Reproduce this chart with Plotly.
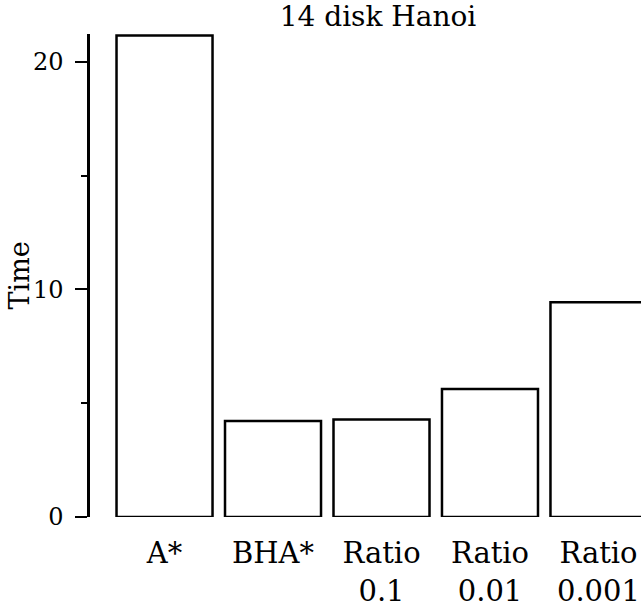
import plotly.graph_objects as go

categories = ["A*", "BHA*", "Ratio<br>0.1", "Ratio<br>0.01", "Ratio<br>0.001"]
times = [21.15, 4.22, 4.28, 5.62, 9.43]
y_ticks = [0, 10, 20]
title_text = "14 disk Hanoi"
y_title = "Time"

FONT = "DejaVu Serif"
xpos = list(range(len(categories)))

fig = go.Figure()
fig.add_trace(go.Bar(
    x=xpos, y=times,
    marker=dict(color="white", line=dict(color="black", width=2.5)),
    width=0.885,
    showlegend=False,
))

fig.update_layout(
    width=641, height=609,
    margin=dict(l=90, r=0, t=34, b=92, pad=0),
    paper_bgcolor="white", plot_bgcolor="white",
    font=dict(family=FONT, size=27, color="black"),
    title=dict(text=title_text, x=0.5227, xref="paper", xanchor="center",
               y=1 - 16.5 / 609, yref="container", yanchor="middle",
               font=dict(family=FONT, size=28, color="black")),
)
fig.add_annotation(
    text=y_title, textangle=-90, showarrow=False,
    xref="paper", yref="paper", x=(19 - 90) / 551, y=0.5,
    xanchor="center", yanchor="middle",
    font=dict(family=FONT, size=27, color="black"),
)
fig.update_xaxes(
    range=[-0.687, 4.392], tickvals=xpos, ticktext=categories,
    showline=False, ticks="", showgrid=False, zeroline=False,
    tickfont=dict(family=FONT, size=29, color="black"),
    ticklabelstandoff=16,
)
fig.update_yaxes(
    range=[0, 21.22], tickvals=y_ticks, ticktext=[str(v) for v in y_ticks],
    showline=True, linecolor="black", linewidth=2.5,
    ticks="outside", ticklen=12, tickwidth=1.5, tickcolor="black",
    minor=dict(ticks="outside", ticklen=6, tickwidth=1.5, tickcolor="black", dtick=5, showgrid=False),
    showgrid=False, zeroline=False,
    tickfont=dict(family=FONT, size=24, color="black"),
    ticklabelstandoff=7,
)

fig.write_html("out.html")
